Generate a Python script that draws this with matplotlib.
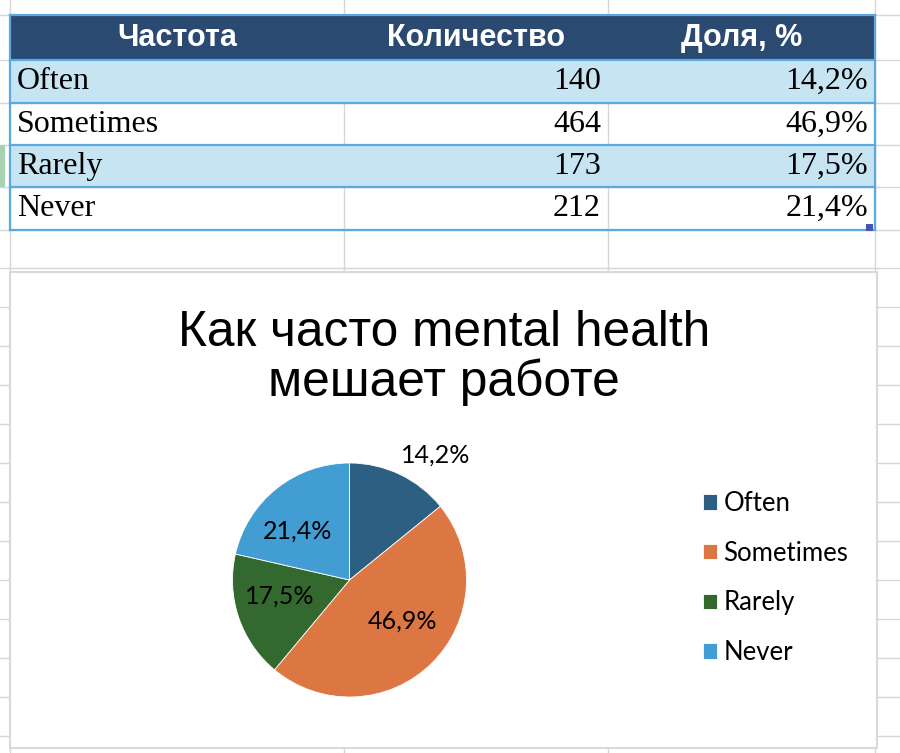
import numpy as np
import matplotlib.pyplot as plt
from matplotlib.patches import Rectangle

# данные таблицы и диаграммы
headers = ['Частота', 'Количество', 'Доля, %']
categories = ['Often', 'Sometimes', 'Rarely', 'Never']
counts = [140, 464, 173, 212]
shares = [14.2, 46.9, 17.5, 21.4]
title = 'Как часто mental health\nмешает работе'

colors = ['#2C5F82', '#DC7642', '#33682E', '#429DD3']

W, H = 900, 753
fig = plt.figure(figsize=(9, 7.53), dpi=100)

# фоновая ось в пикселях (лист Excel)
bg = fig.add_axes([0, 0, 1, 1])
bg.set_xlim(0, W)
bg.set_ylim(H, 0)
bg.axis('off')

grid = '#D6D6D6'
col_x = [10, 344, 608, 875]
row_y = [15, 60, 103, 145, 187, 230, 268] + list(range(307, H, 39))
for x in col_x:
    bg.plot([x, x], [0, H], color=grid, lw=1, zorder=0)
for y in row_y:
    bg.plot([0, W], [y, y], color=grid, lw=1, zorder=0)
# выделенная строка слева
bg.add_patch(Rectangle((0, 145), 5, 42, fc='#A8D2B2', ec='none', zorder=1))

# таблица
t_left, t_right = col_x[0], col_x[-1]
bg.add_patch(Rectangle((t_left, row_y[0]), t_right - t_left, row_y[1] - row_y[0],
                       fc='#2B4A72', ec='none', zorder=1))
for i in range(len(categories)):
    y0, y1 = row_y[i + 1], row_y[i + 2]
    if i % 2 == 0:
        bg.add_patch(Rectangle((t_left, y0), t_right - t_left, y1 - y0,
                               fc='#C6E4F2', ec='none', zorder=1))
border = '#5AAAE0'
for y in row_y[:6]:
    bg.plot([t_left, t_right], [y, y], color=border, lw=1.6, zorder=2)
for x in [t_left, t_right]:
    bg.plot([x, x], [row_y[0], row_y[5]], color=border, lw=1.6, zorder=2)
bg.add_patch(Rectangle((866, 224), 7, 7, fc='#4655B5', ec='none', zorder=3))

# заголовки
hy = (row_y[0] + row_y[1]) / 2
for j, h in enumerate(headers):
    bg.text((col_x[j] + col_x[j + 1]) / 2, hy, h, ha='center', va='center',
            color='white', fontsize=22, fontweight='bold', family='Liberation Sans', zorder=3)

# строки
for i, cat in enumerate(categories):
    yc = (row_y[i + 1] + row_y[i + 2]) / 2
    txt = dict(va='center', fontsize=23, family='Liberation Serif', zorder=3)
    bg.text(col_x[0] + 7, yc, cat, ha='left', **txt)
    bg.text(col_x[2] - 7, yc, str(counts[i]), ha='right', **txt)
    bg.text(col_x[3] - 7, yc, f'{shares[i]:.1f}%'.replace('.', ','), ha='right', **txt)

# область диаграммы
bg.add_patch(Rectangle((10, 272), 867, 476, fc='white', ec='#D9D9D9', lw=1.5, zorder=4))
bg.text(444, 396, title, ha='center', va='baseline', fontsize=35.7,
        family='Liberation Sans', linespacing=1.07, zorder=5)

# круговая диаграмма
cx, cy, R = 349.5, 580, 117
lim = 1.45
size = 2 * R * lim
pie_ax = fig.add_axes([(cx - R * lim) / W, (H - cy - R * lim) / H, size / W, size / H])
wedges, _ = pie_ax.pie(counts, colors=colors, startangle=90, counterclock=False,
                       wedgeprops=dict(edgecolor='white', linewidth=0.6))
pie_ax.set_xlim(-lim, lim)
pie_ax.set_ylim(-lim, lim)
pie_ax.axis('off')

label_r = [1.30, 0.57, 0.61, 0.61]
label_ang = [55.5, -38, 193, 136.4]
for s, r, a in zip(shares, label_r, label_ang):
    pie_ax.text(r * np.cos(np.radians(a)), r * np.sin(np.radians(a)),
                f'{s:.1f}%'.replace('.', ','), ha='center', va='center',
                fontsize=18, family='Lato')

# легенда
fig.legend(wedges, categories, loc='center left', bbox_to_anchor=(703 / W, 1 - 578 / H),
           frameon=False, prop=dict(family='Lato', size=18.5),
           handlelength=0.55, handleheight=0.55, handletextpad=0.25,
           labelspacing=0.96, borderpad=0, borderaxespad=0)

fig.savefig('out.png', dpi=100)
